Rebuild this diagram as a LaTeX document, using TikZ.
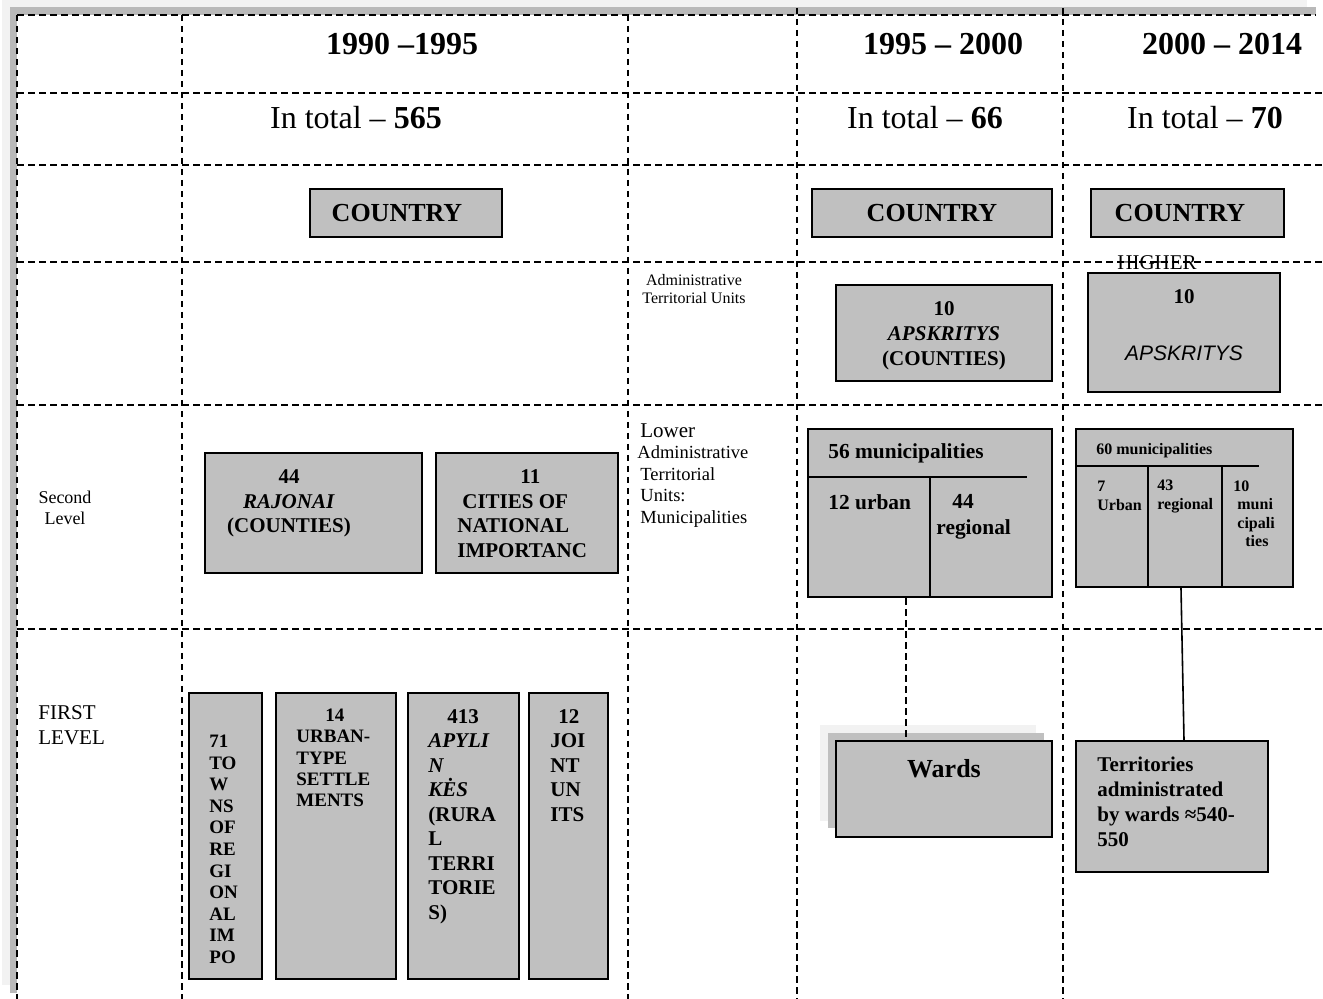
\documentclass[tikz,border=0pt]{standalone}
\usepackage{fontspec}
\setmainfont{Liberation Serif}
\newfontfamily\arialfont{Liberation Sans}
\definecolor{boxgray}{RGB}{192,192,192}
\definecolor{shadelight}{RGB}{242,242,242}
\definecolor{shadedark}{RGB}{185,185,185}
\newcommand{\fs}[2]{\fontsize{#1}{#2}\selectfont}
\tikzset{
  unit/.style={draw, line width=1.2pt, fill=boxgray, inner sep=0pt},
  gridln/.style={line width=1pt, dash pattern=on 3.25pt off 2.25pt},
  txt/.style={inner sep=0pt, align=left, font=\bfseries\fs{10.5}{12.25}},
  lbl/.style={inner sep=0pt, font=\fs{9}{10.5}}
}

\begin{document}
\begin{tikzpicture}[x=0.5pt,y=-0.5pt]
  \useasboundingbox (0,0) rectangle (1323,999);
  % page frame with shadow
  \fill[shadelight] (2,0) rectangle (1307,985);
  \fill[shadedark] (10,7) rectangle (1316,993);
  \fill[white] (17,15) rectangle (1323,999);

  \node[lbl, font=\fs{10.5}{12}] (higher) at (1157,263) {HIGHER};

  % dashed table
  \draw[gridln] (17,15) -- (1316,15);
  \foreach \y in {93,165,262,405,629}
    \draw[gridln] (17,\y) -- (1323,\y);
  \foreach \x in {17,182,628}
    \draw[gridln] (\x,15) -- (\x,999);
  \foreach \x in {797,1063}
    \draw[gridln] (\x,8) -- (\x,999);

  % periods
  \node[lbl, font=\bfseries\fs{16}{18}] (per1) at (402,44) {1990 –1995};
  \node[lbl, font=\bfseries\fs{16}{18}] (per2) at (943,44) {1995 – 2000};
  \node[lbl, font=\bfseries\fs{16}{18}] (per3) at (1222,44) {2000 – 2014};
  \node[lbl, font=\fs{16}{18}] (tot1) at (356,118) {In total – \textbf{565}};
  \node[lbl, font=\fs{16}{18}] (tot2) at (925,118) {In total – \textbf{66}};
  \node[lbl, font=\fs{16}{18}] (tot3) at (1205,118) {In total – \textbf{70}};

  % country row
  \node[unit, minimum width=96pt, minimum height=24pt, font=\bfseries\fs{13}{15}] (country1) at (406,213) {COUNTRY\hspace*{9pt}};
  \node[unit, minimum width=120pt, minimum height=24pt, font=\bfseries\fs{13}{15}] (country2) at (932,213) {COUNTRY};
  \node[unit, minimum width=96.5pt, minimum height=24pt, font=\bfseries\fs{13}{15}] (country3) at (1187.5,213) {COUNTRY\hspace*{7.5pt}};

  % higher level
  \node[lbl, align=center, font=\fs{8}{9}] (adminhigh) at (694,289) {Administrative\\Territorial Units};
  \node[unit, minimum width=108pt, minimum height=48pt] (apsk1) at (944,333) {};
  \node[txt, align=center, font=\bfseries\fs{10.5}{12.5}] (apsk1txt) at (944,336)
    {10\\\textit{APSKRITYS}\\(COUNTIES)};
  \node[unit, minimum width=96pt, minimum height=59.5pt] (apsk2) at (1184,332.5) {};
  \node[txt] (apsk2num) at (1184,297) {10};
  \node[lbl, font=\arialfont\itshape\fs{10.5}{12}] (apsk2name) at (1184,353) {APSKRITYS};

  % second level
  \node[lbl, align=center] (second) at (65,507.5) {Second\\Level};
  \node[unit, minimum width=108.5pt, minimum height=60pt] (rajonai) at (313.5,513) {};
  \node[txt, align=center] (rajonaitxt) at (289,503.5) {44\\\textit{RAJONAI}\\(COUNTIES)};
  \node[unit, minimum width=91pt, minimum height=60pt] (cities) at (527,513) {};
  \node[txt, anchor=west] (citiestxt) at (457,513.5)
    {\hspace*{31.5pt}11\\\hspace*{2.5pt}CITIES OF\\NATIONAL\\IMPORTANC};
  \node[lbl, anchor=north west, align=left, font=\fs{9.25}{10.75}] (adminlow) at (637,423)
    {\hspace*{1.5pt}{\fs{10.5}{12}Lower}\\Administrative\\\hspace*{1.5pt}Territorial\\\hspace*{1.5pt}Units:\\\hspace*{1.5pt}Municipalities};

  \node[unit, minimum width=122pt, minimum height=84pt] (mun56) at (930,513) {};
  \draw[line width=1pt] (808,477) -- (1027,477);
  \draw[line width=1pt] (930,477) -- (mun56.south -| 930,0);
  \node[txt, anchor=west, font=\bfseries\fs{10.7}{13}] (mun56head) at (828,453) {56 municipalities};
  \node[txt, anchor=west, font=\bfseries\fs{10.7}{13}] (urban12) at (828,502) {12 urban};
  \node[txt, anchor=west, font=\bfseries\fs{10.7}{13}] (regional44) at (936,517) {\hspace*{8pt}44\\regional};

  \node[unit, minimum width=108.5pt, minimum height=79pt] (mun60) at (1184.5,508) {};
  \draw[line width=1pt] (1076,466) -- (1259,466);
  \foreach \x in {1148,1222}
    \draw[line width=1pt] (\x,466) -- (mun60.south -| \x,0);
  \node[txt, anchor=west, font=\bfseries\fs{8}{9.5}] (mun60head) at (1096,451) {60 municipalities};
  \node[txt, anchor=west, font=\bfseries\fs{8}{9.5}] (urban7) at (1097,496) {7\\Urban};
  \node[txt, anchor=west, font=\bfseries\fs{8}{9.5}] (regional43) at (1157,496) {43\\regional};
  \node[txt, anchor=west, font=\bfseries\fs{8}{9.25}] (muni10) at (1233,514)
    {10\\\hspace*{2pt}muni\\\hspace*{2pt}cipali\\\hspace*{6pt}ties};

  % first level
  \node[lbl, anchor=west, align=left, font=\fs{10.5}{12.5}] (first) at (38,725.5) {FIRST\\LEVEL};
  \node[unit, minimum width=36.5pt, minimum height=143pt] (towns) at (225.5,836) {};
  \node[txt, anchor=north west, font=\bfseries\fs{9.5}{10.8}] (townstxt) at (209,734.5)
    {71\\TO\\W\\NS\\OF\\RE\\GI\\ON\\AL\\IM\\PO};
  \node[unit, minimum width=60pt, minimum height=143pt] (settle) at (336,836) {};
  \node[txt, anchor=north west, font=\bfseries\fs{9.5}{10.65}] (settletxt) at (296,708.5)
    {\hspace*{14.5pt}14\\URBAN-\\TYPE\\SETTLE\\MENTS};
  \node[unit, minimum width=55.5pt, minimum height=143pt] (apyl) at (463.5,836) {};
  \node[txt, anchor=north west] (apyltxt) at (428,709)
    {\hspace*{9.5pt}413\\\textit{APYLI}\\\textit{N}\\\textit{KĖS}\\(RURA\\L\\TERRI\\TORIE\\S)};
  \node[unit, minimum width=39.5pt, minimum height=143pt] (joint) at (568.5,836) {};
  \node[txt, anchor=north west] (jointtxt) at (550,709)
    {\hspace*{4pt}12\\JOI\\NT\\UN\\ITS};

  % wards with shadow
  \fill[shadelight] (820,725) rectangle (1036,821);
  \fill[boxgray] (828,733) rectangle (1044,828);
  \node[unit, minimum width=108pt, minimum height=48pt] (wards) at (944,789) {};
  \node[txt, font=\bfseries\fs{13}{15}] (wardstxt) at (944,769) {Wards};
  \node[unit, minimum width=96pt, minimum height=65.5pt] (terr) at (1172,806.5) {};
  \node[txt, anchor=north west, font=\bfseries\fs{10.5}{12.35}] (terrtxt) at (1097,757)
    {Territories\\administrated\\by wards ≈540-\\550};

  % links
  \draw[gridln] ([xshift=-12pt]mun56.south) -- ([xshift=-19pt]wards.north);
  \draw[line width=0.8pt] ([xshift=-1.75pt]mun60.south) -- ([xshift=6pt]terr.north);
\end{tikzpicture}
\end{document}
